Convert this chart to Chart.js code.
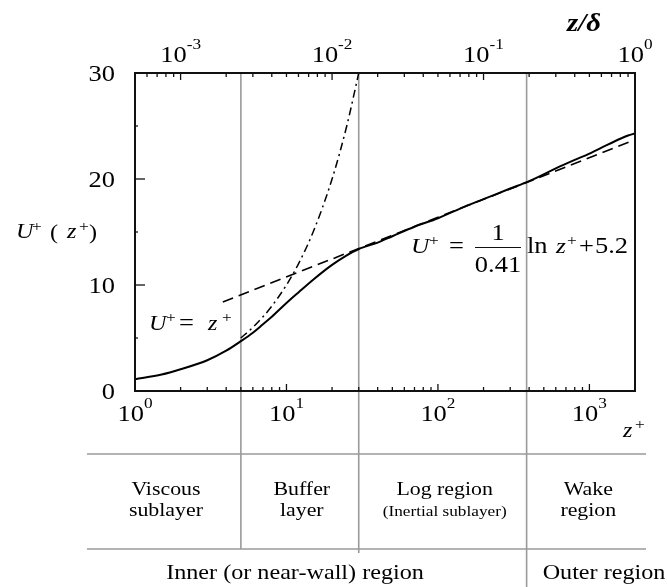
<!DOCTYPE html>
<html lang="en">
<head>
<meta charset="UTF-8">
<title>Velocity profile</title>
<script src="https://cdn.jsdelivr.net/npm/chart.js"></script>
<style>
  html, body { margin: 0; padding: 0; background: #fff; }
  canvas { display: block; }
</style>
</head>
<body>
<canvas id="myChart" width="667" height="587"></canvas>
<script>
// mean velocity profile U+(z+)
const zPlus = [1, 1.5, 2, 3, 4, 5, 6, 7, 8, 10, 12, 15, 20, 25, 30, 40, 50, 70, 100, 150, 200, 300, 400, 600, 800, 1000, 1300, 1600, 1800, 2000];
const uPlus = [1.1, 1.55, 2.05, 2.9, 3.8, 4.7, 5.5, 6.3, 7.0, 8.3, 9.3, 10.5, 11.9, 12.8, 13.4, 14.0, 14.6, 15.5, 16.3, 17.4, 18.1, 19.1, 19.8, 21.0, 21.8, 22.4, 23.2, 23.8, 24.1, 24.3];

// U+ = z+ carried on past the sublayer (dash-dot)
const linearZ = [5, 6, 7, 8, 10, 12, 15, 20, 25, 30];
const linearU = [5, 6, 7, 8, 10, 12, 15, 20, 25, 30];

// log law (dashed)
const logZ = [3.8, 2000];
const logU = [8.4, 23.7];

// region boundaries in z+
const regionEdges = [5, 30, 385];

// axis ticks
const yTicks = [0, 10, 20, 30];
const yMinor = [5, 15, 25];
const xTicks = [1, 10, 100, 1000];
const xTickExp = ['0', '1', '2', '3'];
const topTicks = [0.001, 0.01, 0.1, 1];
const topTickExp = ['-3', '-2', '-1', '0'];

const regionNames = [['Viscous', 'sublayer'], ['Buffer', 'layer'], ['Log region', '(Inertial sublayer)'], ['Wake', 'region']];
const zoneNames = ['Inner (or near-wall) region', 'Outer region'];

const SERIF = 'Liberation Serif';
const SX = 1.15; // the original lettering is a bit wide

function put(ctx, str, x, y, font, align) {
    ctx.save();
    ctx.font = font;
    ctx.textAlign = align || 'left';
    ctx.textBaseline = 'alphabetic';
    ctx.translate(x, y);
    ctx.scale(SX, 1);
    ctx.fillText(str, 0, 0);
    ctx.restore();
}

function textW(ctx, str, font) {
    ctx.font = font;
    return ctx.measureText(str).width * SX;
}

function power(ctx, px, baseY, exp) {
    const bf = '23px ' + SERIF, ef = '15px ' + SERIF;
    const w = textW(ctx, '10', bf) + textW(ctx, exp, ef);
    const x0 = px - w / 2;
    put(ctx, '10', x0, baseY, bf);
    put(ctx, exp, x0 + textW(ctx, '10', bf), baseY - 13, ef);
}

function seg(ctx, x1, y1, x2, y2) {
    ctx.beginPath();
    ctx.moveTo(x1, y1);
    ctx.lineTo(x2, y2);
    ctx.stroke();
}

const decorations = {
    id: 'decorations',
    beforeDatasetsDraw(chart) {
        const { ctx, chartArea: a, scales: { x } } = chart;
        ctx.save();
        ctx.strokeStyle = '#9a9a9a';
        ctx.lineWidth = 1.6;
        const ends = [549, 553, 587];
        regionEdges.forEach((v, i) => {
            const px = x.getPixelForValue(v);
            seg(ctx, px, a.top, px, ends[i]);
        });
        seg(ctx, 87, 454, 646, 454);
        seg(ctx, 87, 549, 646, 549);
        ctx.restore();
    },
    afterDraw(chart) {
        const { ctx, chartArea: a, scales: { x, x2, y } } = chart;
        ctx.save();
        ctx.fillStyle = '#000';
        ctx.strokeStyle = '#111';

        // frame
        ctx.lineWidth = 2;
        ctx.strokeRect(a.left, a.top, a.right - a.left, a.bottom - a.top);

        // bottom ticks (inside)
        ctx.lineWidth = 1.3;
        for (let d = 1; d < 2000; d *= 10) {
            for (let m = 1; m <= 9; m++) {
                const v = d * m;
                if (v >= 2000) break;
                const px = x.getPixelForValue(v);
                seg(ctx, px, a.bottom, px, a.bottom - (m === 1 ? 7 : 4));
            }
        }
        // top ticks (inside)
        for (let d = 0.0001; d < 1; d *= 10) {
            for (let m = 1; m <= 9; m++) {
                const v = d * m;
                if (v < 0.0005) continue;
                const px = x2.getPixelForValue(v);
                seg(ctx, px, a.top, px, a.top + (m === 1 ? 7 : 4));
            }
        }
        // y ticks
        yTicks.forEach(v => {
            const py = y.getPixelForValue(v);
            seg(ctx, a.left, py, a.left + 10, py);
        });
        yMinor.forEach(v => {
            const py = y.getPixelForValue(v);
            seg(ctx, a.left, py, a.left + 3, py);
        });

        // tick labels
        yTicks.forEach(v => {
            const py = y.getPixelForValue(v);
            put(ctx, String(v), 115, py + 8, '23px ' + SERIF, 'right');
        });
        xTicks.forEach((v, i) => power(ctx, x.getPixelForValue(v), 421, xTickExp[i]));
        topTicks.forEach((v, i) => power(ctx, x2.getPixelForValue(v), 62, topTickExp[i]));

        // axis titles
        const it = 'italic 21px ' + SERIF, sup = '15px ' + SERIF, rm = '21px ' + SERIF;
        put(ctx, 'z/\u03b4', 584, 31, 'bold italic 25px ' + SERIF, 'center');
        put(ctx, 'z', 623, 437, it);
        put(ctx, '+', 635, 429, sup);
        put(ctx, 'U', 16, 238, it);
        put(ctx, '+', 32, 231, sup);
        put(ctx, '(', 50, 239, rm);
        put(ctx, 'z', 67, 238, it);
        put(ctx, '+', 79, 231, sup);
        put(ctx, ')', 89, 239, rm);

        // U+ = z+
        put(ctx, 'U', 149, 330, it);
        put(ctx, '+', 166, 322, sup);
        put(ctx, '=', 179, 330, '23px ' + SERIF);
        put(ctx, 'z', 208, 330, it);
        put(ctx, '+', 222, 322, sup);

        // log law label
        const rf = '23px ' + SERIF, itf = 'italic 22px ' + SERIF;
        put(ctx, 'U', 411, 253, itf);
        put(ctx, '+', 429, 245, sup);
        put(ctx, '=', 449, 253, rf);
        put(ctx, '1', 498, 240, rf, 'center');
        ctx.lineWidth = 1;
        seg(ctx, 475, 247.5, 521, 247.5);
        put(ctx, '0.41', 498, 272, rf, 'center');
        put(ctx, 'ln', 527, 253, rf);
        put(ctx, 'z', 556, 253, itf);
        put(ctx, '+', 567, 245, sup);
        put(ctx, '+', 579, 253, rf);
        put(ctx, '5.2', 595, 253, rf);

        // region table
        const cols = [87].concat(regionEdges.map(v => x.getPixelForValue(v)), [646]);
        const tf = '19px ' + SERIF;
        regionNames.forEach((n, i) => {
            const cx = (cols[i] + cols[i + 1]) / 2 + 2;
            put(ctx, n[0], cx, 495, tf, 'center');
            put(ctx, n[1], cx, 516, n[1].startsWith('(') ? '15px ' + SERIF : tf, 'center');
        });
        put(ctx, zoneNames[0], 295, 579, '21px ' + SERIF, 'center');
        put(ctx, zoneNames[1], 604, 579, '21px ' + SERIF, 'center');

        ctx.restore();
    }
};

const ctx = document.getElementById('myChart').getContext('2d');
const myChart = new Chart(ctx, {
    type: 'line',
    data: {
        datasets: [
            {
                label: 'U+',
                data: zPlus.map((z, i) => ({ x: z, y: uPlus[i] })),
                borderColor: '#000',
                borderWidth: 2,
                pointRadius: 0,
                cubicInterpolationMode: 'monotone'
            },
            {
                label: 'U+ = z+',
                data: linearZ.map((z, i) => ({ x: z, y: linearU[i] })),
                borderColor: '#000',
                borderWidth: 1.5,
                borderDash: [8, 4, 2, 4],
                pointRadius: 0,
                cubicInterpolationMode: 'monotone'
            },
            {
                label: 'log law',
                data: logZ.map((z, i) => ({ x: z, y: logU[i] })),
                borderColor: '#000',
                borderWidth: 1.6,
                borderDash: [11, 6],
                pointRadius: 0
            }
        ]
    },
    options: {
        responsive: false,
        animation: false,
        layout: { padding: { left: 135, top: 73, right: 32, bottom: 196 } },
        plugins: { legend: { display: false }, tooltip: { enabled: false } },
        scales: {
            x: { type: 'logarithmic', min: 1, max: 2000, display: false },
            x2: { type: 'logarithmic', axis: 'x', position: 'top', min: 0.0005, max: 1, display: false },
            y: { type: 'linear', min: 0, max: 30, display: false }
        }
    },
    plugins: [decorations]
});
</script>
</body>
</html>
